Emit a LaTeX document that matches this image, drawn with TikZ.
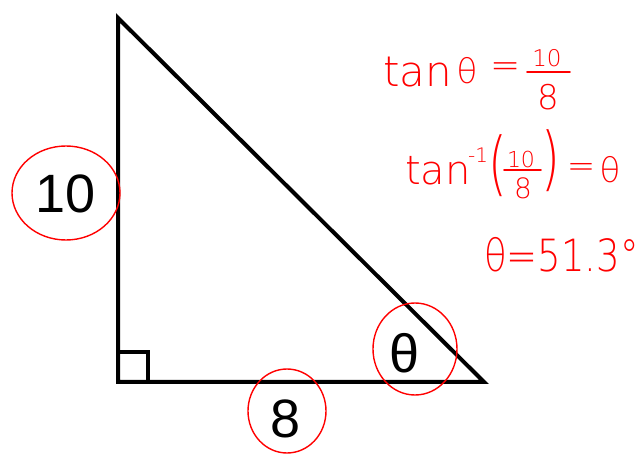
\documentclass[tikz,border=0pt]{standalone}
\usepackage{fontspec}
\setmainfont{Liberation Sans}
\newfontfamily\thinfont{DejaVu Sans ExtraLight}
\usetikzlibrary{shapes.geometric}
\begin{document}
\begin{tikzpicture}[x=1pt,y=-1pt,
  tri/.style={line width=4pt,line join=miter,black},
  ring/.style={ellipse,draw=red,line width=1.4pt,inner sep=0pt},
  side/.style={font=\fontsize{54}{60}\selectfont,inner sep=0pt},
  hand/.style={red,inner sep=0pt},
  bar/.style={red,line width=1.6pt,line cap=round}]
\useasboundingbox (0,0) rectangle (638,454);
\coordinate (A) at (118,18);
\coordinate (B) at (118,382);
\coordinate (C) at (484,382);
\draw[tri] (A) -- (B) -- (C) -- cycle;
\draw[line width=3.5pt] (118,352) rectangle (148,382);
\node[side] (t10) at (66,194) {10};
\node[side] (t8) at (286,419) {8};
\node[side] (tth) at (405,353) {θ};
\node[ring,minimum width=108pt,minimum height=94pt] (c10) at (66,193) {};
\node[ring,minimum width=78pt,minimum height=84pt] (c8) at (287,411) {};
\node[ring,minimum width=84pt,minimum height=92pt] (cth) at (415,349) {};
% line 1
\node[hand,anchor=base west,font=\thinfont\fontsize{42}{44}\selectfont] (l1tan) at (383,87) {tan};
\node[hand,font=\thinfont\fontsize{34}{36}\selectfont] (l1th) at (467,71) {θ};
\node[hand,font=\thinfont\fontsize{36}{36}\selectfont] (l1eq) at (506,70) {=};
\node[hand,font=\thinfont\fontsize{23}{24}\selectfont] (l1n) at (547,58) {10};
\node[hand,font=\thinfont\fontsize{34}{36}\selectfont] (l1d) at (548,97) {8};
\coordinate (l1a) at (527,72);
\coordinate (l1b) at (570,72);
\draw[bar] (l1a) -- (l1b);
% line 2
\node[hand,anchor=base west,font=\thinfont\fontsize{40}{42}\selectfont] (l2tan) at (405,185) {tan};
\node[hand,font=\thinfont\fontsize{20}{22}\selectfont] (l2sup) at (478,155) {-1};
\node[hand,font=\thinfont\fontsize{48}{50}\selectfont,yscale=1.45] (l2lp) at (498,166) {(};
\node[hand,font=\thinfont\fontsize{22}{24}\selectfont] (l2n) at (521,160) {10};
\node[hand,font=\thinfont\fontsize{28}{30}\selectfont] (l2d) at (523,188) {8};
\coordinate (l2a) at (504,170);
\coordinate (l2b) at (541,170);
\draw[bar] (l2a) -- (l2b);
\node[hand,font=\thinfont\fontsize{48}{50}\selectfont,yscale=1.45] (l2rp) at (551,161) {)};
\node[hand,font=\thinfont\fontsize{34}{38}\selectfont] (l2eq) at (581,170) {=};
\node[hand,font=\thinfont\fontsize{34}{36}\selectfont] (l2th) at (610,170) {θ};
% line 3
\node[hand,anchor=base west,font=\thinfont\fontsize{37}{40}\selectfont,yscale=1.2] (eq3) at (484,272) {θ=51.3°};
\end{tikzpicture}
\end{document}
